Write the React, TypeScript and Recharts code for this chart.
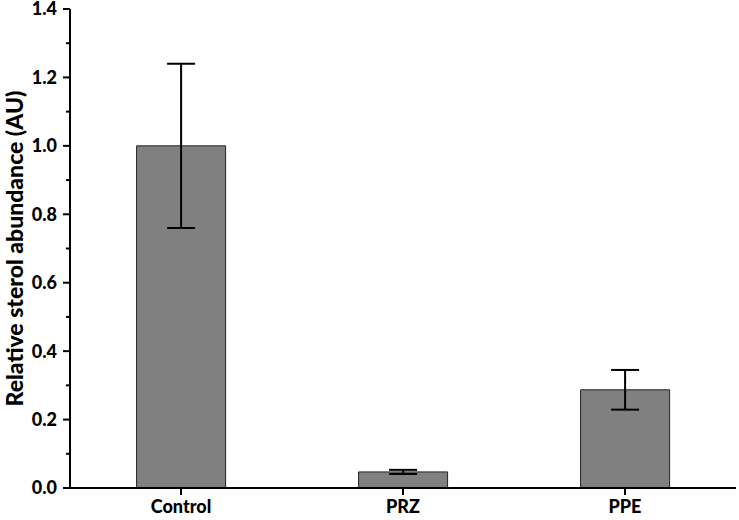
import React from "react";
import { BarChart, Bar, XAxis, YAxis, ErrorBar, ReferenceLine } from "recharts";

const categories = ["Control", "PRZ", "PPE"];
const means = [1.0, 0.047, 0.287];
const errors = [0.24, 0.006, 0.058];
const yTicks = [0, 0.1, 0.2, 0.3, 0.4, 0.5, 0.6, 0.7, 0.8, 0.9, 1.0, 1.1, 1.2, 1.3, 1.4];

const data = categories.map((c, i) => ({ name: c, value: means[i], err: errors[i] }));

const FONT = "Lato, 'Open Sans', sans-serif";
const WEIGHT = 900;

const YTick = (props: any) => {
  const { x, y, payload } = props;
  const v = payload.value as number;
  const major = Math.round(v * 10) % 2 === 0;
  return (
    <g>
      <line x1={x - (major ? 7 : 4)} x2={x} y1={y} y2={y} stroke="#000" strokeWidth={2} />
      {major && (
        <text x={x - 13} y={y} dy="0.36em" textAnchor="end" fontFamily={FONT} fontWeight={WEIGHT} fontSize={18} fill="#000">
          {v.toFixed(1)}
        </text>
      )}
    </g>
  );
};

export default function App() {
  return (
    <div style={{ position: "absolute", left: 0, top: 0, width: 739, height: 520, background: "#fff" }}>
      <BarChart
        width={739}
        height={520}
        data={data}
        margin={{ top: 9, right: 3, left: 0, bottom: 0 }}
        barCategoryGap="30%"
      >
        <XAxis
          dataKey="name"
          height={32}
          axisLine={{ stroke: "#000", strokeWidth: 2 }}
          tickLine={{ stroke: "#000", strokeWidth: 2 }}
          tickSize={7}
          tickMargin={5}
          tick={{ fill: "#000", fontFamily: FONT, fontWeight: WEIGHT, fontSize: 18 }}
        />
        <XAxis xAxisId="num" type="number" domain={[0, 3]} hide />
        <YAxis
          width={70}
          domain={[0, 1.4]}
          ticks={yTicks}
          interval={0}
          axisLine={{ stroke: "#000", strokeWidth: 2 }}
          tickLine={false}
          tickSize={0}
          tickMargin={0}
          tick={<YTick />}
          label={{
            value: "Relative sterol abundance (AU)",
            angle: -90,
            position: "insideLeft",
            dx: 10,
            dy: 0,
            style: { textAnchor: "middle", fontFamily: FONT, fontWeight: WEIGHT, fontSize: 23, fill: "#000" },
          }}
        />
        <Bar dataKey="value" fill="#808080" stroke="#222" strokeWidth={1} isAnimationActive={false}>
          <ErrorBar dataKey="err" width={14} stroke="#000" strokeWidth={2} isAnimationActive={false} />
        </Bar>
        <ReferenceLine
          xAxisId="num"
          segment={[{ x: 3, y: 0 }, { x: 3, y: 0.016 }]}
          stroke="#000"
          strokeWidth={2}
          ifOverflow="visible"
        />
      </BarChart>
    </div>
  );
}
